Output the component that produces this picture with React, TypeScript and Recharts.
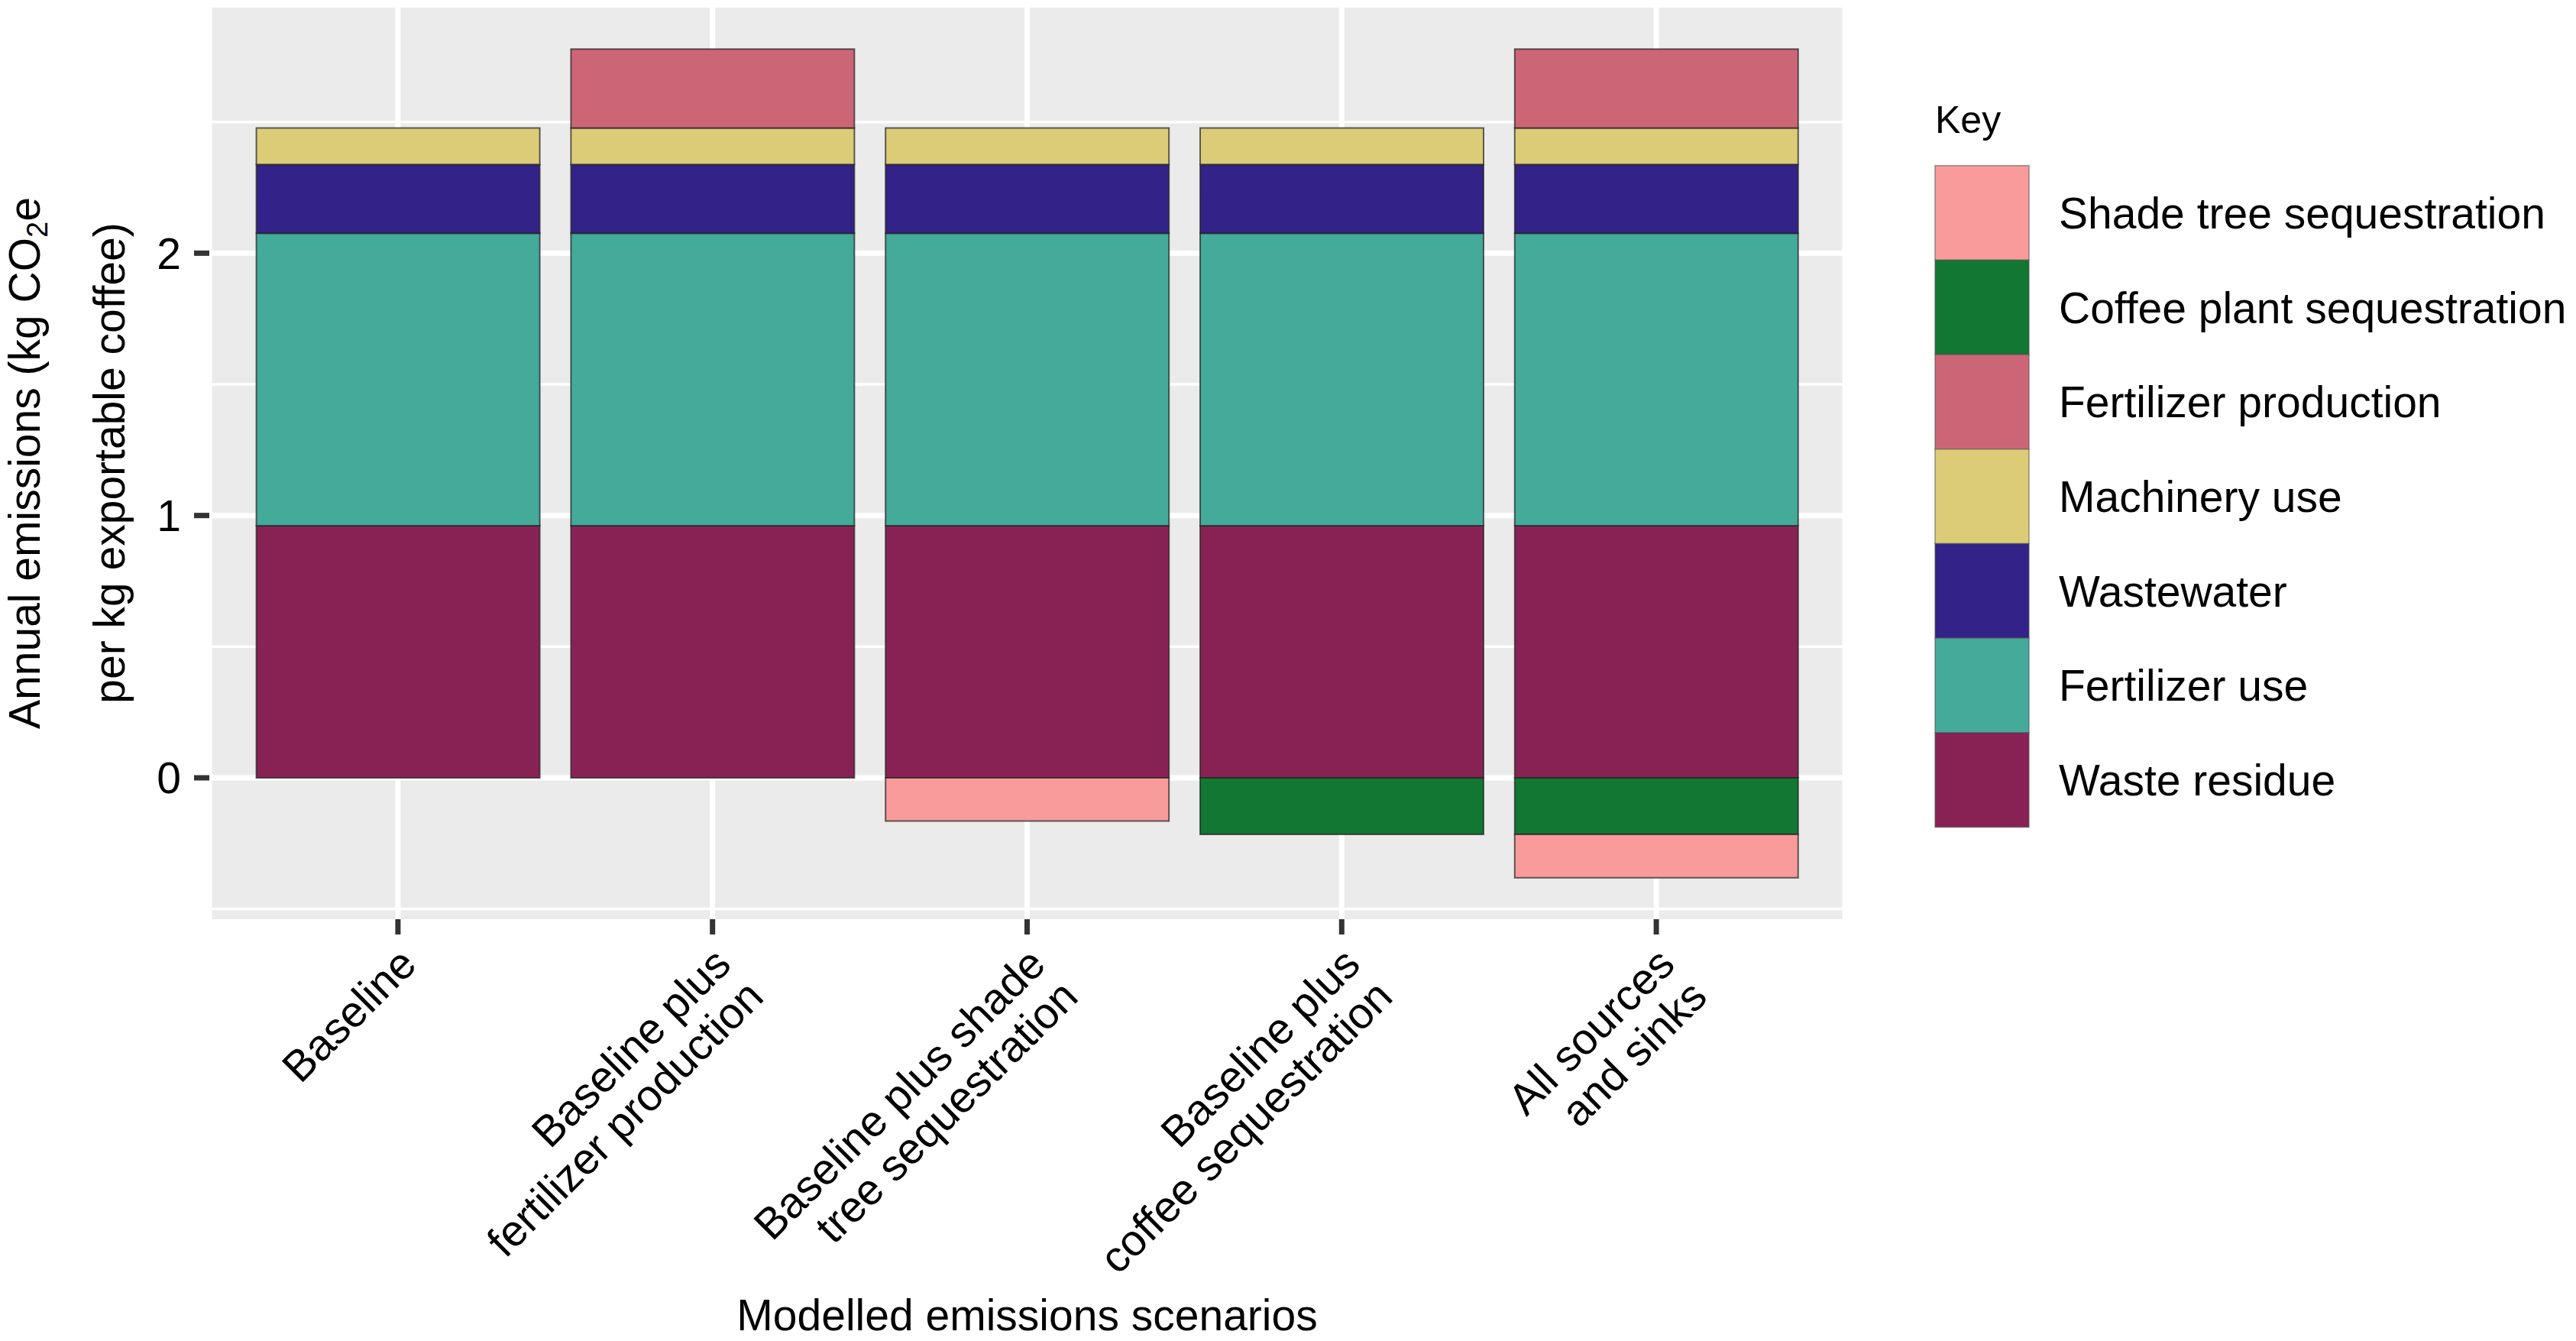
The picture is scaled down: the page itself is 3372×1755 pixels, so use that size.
import React from 'react';
import { BarChart, Bar, XAxis, YAxis, CartesianGrid } from 'recharts';

const FONT = "'Liberation Sans', Arial, Helvetica, sans-serif";

// ---- data ----
const scenarios = [
  'Baseline',
  'Baseline plus fertilizer production',
  'Baseline plus shade tree sequestration',
  'Baseline plus coffee sequestration',
  'All sources and sinks',
];
const scenarioLabelLines = [
  ['Baseline'],
  ['Baseline plus', 'fertilizer production'],
  ['Baseline plus shade', 'tree sequestration'],
  ['Baseline plus', 'coffee sequestration'],
  ['All sources', 'and sinks'],
];

const wasteResidue = [0.961, 0.961, 0.961, 0.961, 0.961];
const fertilizerUse = [1.115, 1.115, 1.115, 1.115, 1.115];
const wastewater = [0.262, 0.262, 0.262, 0.262, 0.262];
const machineryUse = [0.139, 0.139, 0.139, 0.139, 0.139];
const fertilizerProduction = [0, 0.301, 0, 0, 0.301];
const coffeeSequestration = [0, 0, 0, -0.216, -0.216];
const shadeTreeSequestration = [0, 0, -0.165, 0, -0.165];

const yTicks = [0, 1, 2];
const yMinorGrid = [-0.5, 0.5, 1.5, 2.5];
const yDomain = [-0.539, 2.936];

// stacking order (bottom-up for positives, top-down for negatives)
const series = [
  { key: 'wasteResidue', name: 'Waste residue', color: '#882255', values: wasteResidue },
  { key: 'fertilizerUse', name: 'Fertilizer use', color: '#44AA99', values: fertilizerUse },
  { key: 'wastewater', name: 'Wastewater', color: '#332288', values: wastewater },
  { key: 'machineryUse', name: 'Machinery use', color: '#DDCC77', values: machineryUse },
  { key: 'fertilizerProduction', name: 'Fertilizer production', color: '#CC6677', values: fertilizerProduction },
  { key: 'coffeeSequestration', name: 'Coffee plant sequestration', color: '#117733', values: coffeeSequestration },
  { key: 'shadeTreeSequestration', name: 'Shade tree sequestration', color: '#F99B9B', values: shadeTreeSequestration },
];

const legendOrder = [
  'shadeTreeSequestration',
  'coffeeSequestration',
  'fertilizerProduction',
  'machineryUse',
  'wastewater',
  'fertilizerUse',
  'wasteResidue',
];

const data = scenarios.map((s, i) => {
  const row: Record<string, any> = { scenario: s };
  series.forEach((se) => {
    row[se.key] = se.values[i];
  });
  return row;
});

const XTick = (props: any) => {
  const { x, y, payload } = props;
  const idx = scenarios.indexOf(payload.value);
  const lines = idx >= 0 ? scenarioLabelLines[idx] : [String(payload.value)];
  const px = x + 27;
  const py = y + 40;
  return (
    <text
      x={px}
      y={py}
      transform={`rotate(-45, ${px}, ${py})`}
      textAnchor="end"
      fontSize={57}
      fill="#000"
      fontFamily={FONT}
    >
      {lines.map((l, i) => (
        <tspan key={i} x={px} dy={i === 0 ? 0 : 60}>
          {l}
        </tspan>
      ))}
    </text>
  );
};

export default function App() {
  const W = 3372;
  const H = 1755;
  const keyTop = 216.7;
  const keyH = 123.7;
  return (
    <div style={{ position: 'fixed', left: 0, top: 0, width: W, height: H, background: '#fff', fontFamily: FONT }}>
      <BarChart
        width={W}
        height={H}
        data={data}
        stackOffset="sign"
        barCategoryGap="5%"
        margin={{ top: 10, right: 957, bottom: 252, left: 174 }}
      >
        <CartesianGrid
          fill="#EBEBEB"
          fillOpacity={1}
          stroke="#FFFFFF"
          strokeWidth={7}
          horizontalValues={yTicks}
        />
        <CartesianGrid
          fill="none"
          stroke="#FFFFFF"
          strokeWidth={3.5}
          vertical={false}
          horizontalValues={yMinorGrid}
        />
        <XAxis
          dataKey="scenario"
          type="category"
          height={300}
          interval={0}
          padding={{ left: 41, right: 41 }}
          axisLine={false}
          tickSize={20}
          tickLine={{ stroke: '#333333', strokeWidth: 7 }}
          tick={<XTick />}
        />
        <YAxis
          type="number"
          width={100}
          domain={yDomain}
          allowDataOverflow
          ticks={yTicks}
          axisLine={false}
          tickSize={20}
          tickMargin={17}
          tickLine={{ stroke: '#333333', strokeWidth: 7 }}
          tick={{ fontSize: 57, fill: '#000', fontFamily: FONT }}
        />
        {series.map((se) => (
          <Bar
            key={se.key}
            dataKey={se.key}
            name={se.name}
            stackId="a"
            fill={se.color}
            stroke="#222222"
            strokeOpacity={0.7}
            strokeWidth={2}
            isAnimationActive={false}
          />
        ))}
      </BarChart>
      <svg
        width={W}
        height={H}
        style={{ position: 'absolute', left: 0, top: 0, pointerEvents: 'none' }}
        fontFamily={FONT}
      >
        {/* y axis title */}
        <text x={52} y={606} transform="rotate(-90, 52, 606)" textAnchor="middle" fontSize={57} fill="#000">
          Annual emissions (kg CO
          <tspan fontSize={38} dy={10}>2</tspan>
          <tspan fontSize={57} dy={-10}>e</tspan>
        </text>
        <text x={163} y={606} transform="rotate(-90, 163, 606)" textAnchor="middle" fontSize={57} fill="#000">
          per kg exportable coffee)
        </text>
        {/* x axis title */}
        <text x={1344.5} y={1741} textAnchor="middle" fontSize={57} fill="#000">
          Modelled emissions scenarios
        </text>
        {/* legend */}
        <text x={2533} y={174} fontSize={50} fill="#000">
          Key
        </text>
        {legendOrder.map((k, i) => {
          const se = series.find((s) => s.key === k)!;
          const y = keyTop + i * keyH;
          return (
            <g key={k}>
              <rect x={2533} y={y} width={123} height={keyH} fill={se.color} stroke="#555" strokeOpacity={0.6} strokeWidth={1.5} />
              <text x={2695} y={y + keyH / 2 + 20.4} fontSize={57} fill="#000">
                {se.name}
              </text>
            </g>
          );
        })}
      </svg>
    </div>
  );
}
